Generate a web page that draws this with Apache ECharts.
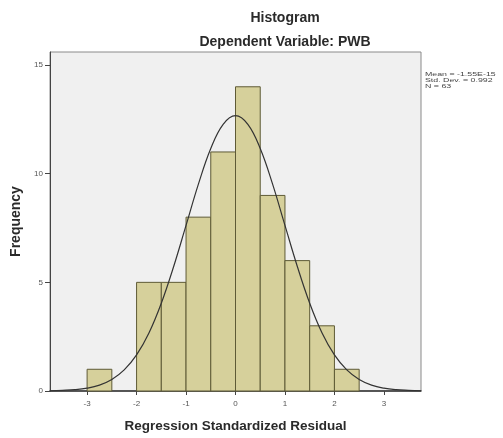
<!DOCTYPE html>
<html>
<head>
<meta charset="utf-8">
<script src="https://cdn.jsdelivr.net/npm/echarts@6/dist/echarts.min.js"></script>
<style>html,body{margin:0;padding:0;background:#fff;}#c{width:503px;height:438px;}</style>
</head>
<body>
<div id="c"></div>
<script>
// Histogram bins (lower edge, upper edge) and counts
const binStarts = [-3, -2.5, -2, -1.5, -1, -0.5, 0, 0.5, 1, 1.5, 2];
const binEnds   = [-2.5, -2, -1.5, -1, -0.5, 0, 0.5, 1, 1.5, 2, 2.5];
const counts    = [1, 0, 5, 5, 8, 11, 14, 9, 6, 3, 1];
// Normal curve
const curveX = [-3.75,-3.5,-3.25,-3,-2.75,-2.5,-2.25,-2,-1.75,-1.5,-1.25,-1,-0.75,-0.5,-0.25,0,0.25,0.5,0.75,1,1.25,1.5,1.75,2,2.25,2.5,2.75,3,3.25,3.5,3.75];
const curveY = [0.01,0.03,0.06,0.13,0.27,0.53,0.97,1.66,2.67,4.04,5.73,7.62,9.52,11.16,12.27,12.67,12.27,11.16,9.52,7.62,5.73,4.04,2.67,1.66,0.97,0.53,0.27,0.13,0.06,0.03,0.01];
const xTicks = [-3, -2, -1, 0, 1, 2, 3];
const yTicks = [0, 5, 10, 15];
const statsText = ['Mean = -1.55E-15', 'Std. Dev. = 0.992', 'N = 63'];

const barData = binStarts.map((s, i) => [s, binEnds[i], counts[i]]).filter(d => d[2] > 0);
const lineData = curveX.map((x, i) => [x, curveY[i]]);

const chart = echarts.init(document.getElementById('c'), null, {renderer: 'canvas'});
const font = 'Liberation Sans, Arial, sans-serif';
chart.setOption({
  animation: false,
  backgroundColor: '#ffffff',
  title: [
    {text: 'Histogram', left: 280, top: 6, textAlign: 'center',
     textStyle: {fontFamily: font, fontSize: 14, fontWeight: 'bold', color: '#2a2a2a'}},
    {text: 'Dependent Variable: PWB', left: 280, top: 30, textAlign: 'center',
     textStyle: {fontFamily: font, fontSize: 14, fontWeight: 'bold', color: '#2a2a2a'}}
  ],
  graphic: [{
    type: 'text', x: 425, y: 72, scaleX: 1.6,
    style: {text: statsText.join('\n'), font: '5.5px ' + font, fill: '#444', lineHeight: 5.8}
  }],
  grid: {left: 50, right: 82, top: 52, bottom: 46, show: true,
         backgroundColor: '#f0f0f0', borderColor: '#8a8a8a', borderWidth: 1},
  xAxis: {
    type: 'value', min: -3.75, max: 3.75,
    name: 'Regression Standardized Residual', nameLocation: 'middle', nameGap: 28,
    nameTextStyle: {fontFamily: font, fontSize: 13.5, fontWeight: 'bold', color: '#2a2a2a'},
    axisLine: {show: true, onZero: false, lineStyle: {color: '#333', width: 1.5}},
    axisTick: {show: true, customValues: xTicks, length: 4, lineStyle: {color: '#444'}},
    axisLabel: {customValues: xTicks, fontFamily: font, fontSize: 8, color: '#555', margin: 9},
    splitLine: {show: false}
  },
  yAxis: {
    type: 'value', min: 0, max: 15.6,
    name: 'Frequency', nameLocation: 'middle', nameGap: 27, nameRotate: 90,
    nameTextStyle: {fontFamily: font, fontSize: 14, fontWeight: 'bold', color: '#2a2a2a'},
    axisLine: {show: true, onZero: false, lineStyle: {color: '#444', width: 1}},
    axisTick: {show: true, customValues: yTicks, length: 5, lineStyle: {color: '#444'}},
    axisLabel: {customValues: yTicks, fontFamily: font, fontSize: 8, color: '#555', margin: 7},
    splitLine: {show: false}
  },
  series: [
    {
      type: 'custom',
      data: barData,
      encode: {x: [0, 1], y: 2},
      renderItem: function (params, api) {
        const p0 = api.coord([api.value(0), 0]);
        const p1 = api.coord([api.value(1), api.value(2)]);
        return {
          type: 'rect',
          shape: {x: p0[0], y: p1[1], width: p1[0] - p0[0], height: p0[1] - p1[1]},
          style: {fill: '#d6d09b', stroke: '#5e5a36', lineWidth: 1}
        };
      },
      z: 2
    },
    {
      type: 'line', data: lineData, smooth: 0.4, showSymbol: false,
      lineStyle: {color: '#333', width: 1.2}, z: 3
    }
  ]
});
</script>
</body>
</html>
